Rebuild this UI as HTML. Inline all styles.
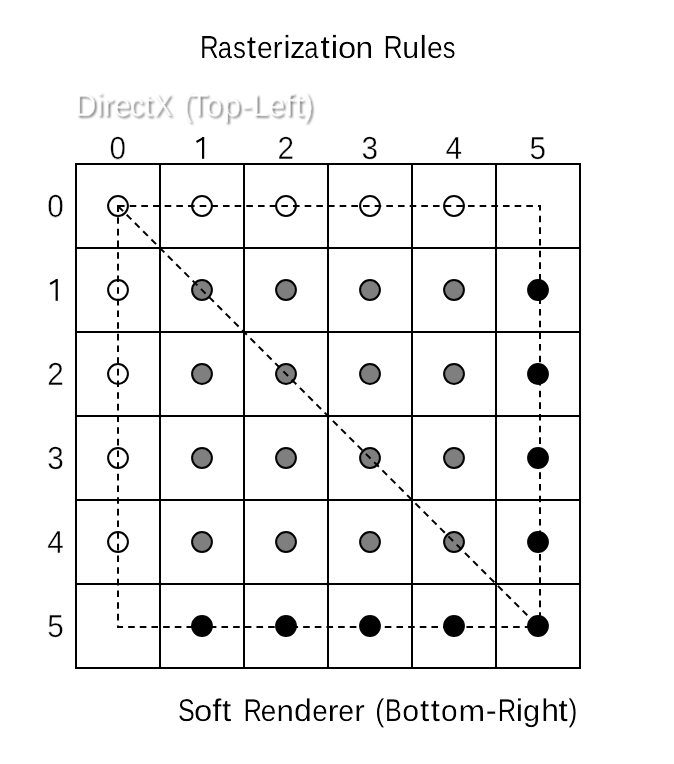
<!DOCTYPE html>
<html><head><meta charset="utf-8"><style>
html,body{margin:0;padding:0;background:#fff;width:674px;height:764px;overflow:hidden}
svg{display:block;will-change:transform} text{text-rendering:geometricPrecision}
</style></head><body>
<svg width="674" height="764" viewBox="0 0 674 764">
<g stroke="#000" stroke-width="2" fill="none"><line x1="76" y1="163" x2="76" y2="669"/><line x1="75" y1="164" x2="581" y2="164"/><line x1="160" y1="163" x2="160" y2="669"/><line x1="75" y1="248" x2="581" y2="248"/><line x1="244" y1="163" x2="244" y2="669"/><line x1="75" y1="332" x2="581" y2="332"/><line x1="328" y1="163" x2="328" y2="669"/><line x1="75" y1="416" x2="581" y2="416"/><line x1="412" y1="163" x2="412" y2="669"/><line x1="75" y1="500" x2="581" y2="500"/><line x1="496" y1="163" x2="496" y2="669"/><line x1="75" y1="584" x2="581" y2="584"/><line x1="580" y1="163" x2="580" y2="669"/><line x1="75" y1="668" x2="581" y2="668"/></g>
<g stroke="#000" stroke-width="2"><circle cx="118" cy="206" r="9.9" fill="#fff"/><circle cx="202" cy="206" r="9.9" fill="#fff"/><circle cx="286" cy="206" r="9.9" fill="#fff"/><circle cx="370" cy="206" r="9.9" fill="#fff"/><circle cx="454" cy="206" r="9.9" fill="#fff"/><circle cx="118" cy="290" r="9.9" fill="#fff"/><circle cx="118" cy="374" r="9.9" fill="#fff"/><circle cx="118" cy="458" r="9.9" fill="#fff"/><circle cx="118" cy="542" r="9.9" fill="#fff"/><circle cx="202" cy="290" r="9.9" fill="#7f7f7f"/><circle cx="286" cy="290" r="9.9" fill="#7f7f7f"/><circle cx="370" cy="290" r="9.9" fill="#7f7f7f"/><circle cx="454" cy="290" r="9.9" fill="#7f7f7f"/><circle cx="202" cy="374" r="9.9" fill="#7f7f7f"/><circle cx="286" cy="374" r="9.9" fill="#7f7f7f"/><circle cx="370" cy="374" r="9.9" fill="#7f7f7f"/><circle cx="454" cy="374" r="9.9" fill="#7f7f7f"/><circle cx="202" cy="458" r="9.9" fill="#7f7f7f"/><circle cx="286" cy="458" r="9.9" fill="#7f7f7f"/><circle cx="370" cy="458" r="9.9" fill="#7f7f7f"/><circle cx="454" cy="458" r="9.9" fill="#7f7f7f"/><circle cx="202" cy="542" r="9.9" fill="#7f7f7f"/><circle cx="286" cy="542" r="9.9" fill="#7f7f7f"/><circle cx="370" cy="542" r="9.9" fill="#7f7f7f"/><circle cx="454" cy="542" r="9.9" fill="#7f7f7f"/><circle cx="538" cy="290" r="9.9" fill="#000"/><circle cx="538" cy="374" r="9.9" fill="#000"/><circle cx="538" cy="458" r="9.9" fill="#000"/><circle cx="538" cy="542" r="9.9" fill="#000"/><circle cx="538" cy="626" r="9.9" fill="#000"/><circle cx="202" cy="626" r="9.9" fill="#000"/><circle cx="286" cy="626" r="9.9" fill="#000"/><circle cx="370" cy="626" r="9.9" fill="#000"/><circle cx="454" cy="626" r="9.9" fill="#000"/></g>
<g stroke="#000" stroke-width="2.0" fill="none" stroke-dasharray="6.6 5.066" stroke-linejoin="miter"><path d="M118 206H540V627H118Z"/><path d="M118 206L538 626" stroke-dashoffset="-0.6"/></g>
<g fill="#000"><path d="M202.00 137.00h2.2V158.80h-2.2Z"/><path d="M196.50 142.00L203.60 137.90" stroke="#000" stroke-width="2.1" fill="none"/><path d="M55.60 279.00h2.2V300.80h-2.2Z"/><path d="M50.10 284.00L57.20 279.90" stroke="#000" stroke-width="2.1" fill="none"/></g>
<defs><filter id="thin" x="0" y="0" width="674" height="764" filterUnits="userSpaceOnUse"><feComponentTransfer><feFuncA type="gamma" amplitude="1" exponent="1.6" offset="0"/></feComponentTransfer></filter></defs>
<g font-family="'Liberation Sans', sans-serif" fill="#000" stroke="#fff" stroke-width="0" filter="url(#thin)"><text transform="translate(199.97 58.00) scale(0.8107 1.0000)" font-size="32" text-anchor="start">R</text><text transform="translate(217.85 58.00) scale(0.8000 0.9400)" font-size="32" text-anchor="start">a</text><text transform="translate(232.99 58.00) scale(0.8073 0.9400)" font-size="32" text-anchor="start">s</text><text transform="translate(246.64 58.00) scale(1.0500 1.0000)" font-size="32" text-anchor="start">t</text><text transform="translate(256.89 58.00) scale(0.8867 0.9400)" font-size="32" text-anchor="start">e</text><text transform="translate(272.55 58.00) scale(0.9548 0.9400)" font-size="32" text-anchor="start">r</text><text transform="translate(283.29 58.00) scale(1.0500 1.0000)" font-size="32" text-anchor="start">i</text><text transform="translate(290.10 58.00) scale(0.9585 0.9400)" font-size="32" text-anchor="start">z</text><text transform="translate(304.35 58.00) scale(0.8000 0.9400)" font-size="32" text-anchor="start">a</text><text transform="translate(320.39 58.00) scale(1.0500 1.0000)" font-size="32" text-anchor="start">t</text><text transform="translate(330.84 58.00) scale(1.0500 1.0000)" font-size="32" text-anchor="start">i</text><text transform="translate(338.02 58.00) scale(1.0230 0.9400)" font-size="32" text-anchor="start">o</text><text transform="translate(355.57 58.00) scale(0.9926 0.9400)" font-size="32" text-anchor="start">n</text><text transform="translate(383.61 58.00) scale(0.8320 1.0000)" font-size="32" text-anchor="start">R</text><text transform="translate(402.21 58.00) scale(0.9455 0.9400)" font-size="32" text-anchor="start">u</text><text transform="translate(419.54 58.00) scale(1.0500 1.0000)" font-size="32" text-anchor="start">l</text><text transform="translate(426.89 58.00) scale(0.8867 0.9400)" font-size="32" text-anchor="start">e</text><text transform="translate(442.80 58.00) scale(0.8000 0.9400)" font-size="32" text-anchor="start">s</text><text transform="translate(177.95 720.70) scale(0.8000 1.0000)" font-size="31.5" text-anchor="start">S</text><text transform="translate(194.10 720.70) scale(1.0400 0.9400)" font-size="31.5" text-anchor="start">o</text><text transform="translate(212.24 720.70) scale(1.0500 1.0000)" font-size="31.5" text-anchor="start">f</text><text transform="translate(222.03 720.70) scale(1.0500 1.0000)" font-size="31.5" text-anchor="start">t</text><text transform="translate(243.57 720.70) scale(0.8107 1.0000)" font-size="31.5" text-anchor="start">R</text><text transform="translate(260.80 720.70) scale(0.8814 0.9400)" font-size="31.5" text-anchor="start">e</text><text transform="translate(276.61 720.70) scale(0.9926 0.9400)" font-size="31.5" text-anchor="start">n</text><text transform="translate(293.93 720.70) scale(1.0175 1.0000)" font-size="31.5" text-anchor="start">d</text><text transform="translate(312.30 720.70) scale(0.8814 0.9400)" font-size="31.5" text-anchor="start">e</text><text transform="translate(327.75 720.70) scale(1.0250 0.9400)" font-size="31.5" text-anchor="start">r</text><text transform="translate(338.37 720.70) scale(0.9017 0.9400)" font-size="31.5" text-anchor="start">e</text><text transform="translate(354.17 720.70) scale(1.0125 0.9400)" font-size="31.5" text-anchor="start">r</text><text transform="translate(375.28 720.70) scale(0.8606 1.0000)" font-size="31.5" text-anchor="start">(</text><text transform="translate(385.05 720.70) scale(0.8000 1.0000)" font-size="31.5" text-anchor="start">B</text><text transform="translate(402.20 720.70) scale(0.9600 0.9400)" font-size="31.5" text-anchor="start">o</text><text transform="translate(420.12 720.70) scale(1.0500 1.0000)" font-size="31.5" text-anchor="start">t</text><text transform="translate(430.72 720.70) scale(1.0500 1.0000)" font-size="31.5" text-anchor="start">t</text><text transform="translate(440.92 720.70) scale(0.9467 0.9400)" font-size="31.5" text-anchor="start">o</text><text transform="translate(458.62 720.70) scale(1.0136 0.9400)" font-size="31.5" text-anchor="start">m</text><text transform="translate(485.64 720.70) scale(1.0500 1.0000)" font-size="31.5" text-anchor="start">-</text><text transform="translate(497.77 720.70) scale(0.8107 1.0000)" font-size="31.5" text-anchor="start">R</text><text transform="translate(515.76 720.70) scale(1.0500 1.0000)" font-size="31.5" text-anchor="start">i</text><text transform="translate(523.08 720.70) scale(0.9754 0.9400)" font-size="31.5" text-anchor="start">g</text><text transform="translate(541.22 720.70) scale(1.0113 1.0000)" font-size="31.5" text-anchor="start">h</text><text transform="translate(558.62 720.70) scale(1.0500 1.0000)" font-size="31.5" text-anchor="start">t</text><text transform="translate(568.59 720.70) scale(0.8485 1.0000)" font-size="31.5" text-anchor="start">)</text></g>
<g font-family="'Liberation Sans', sans-serif" fill="#000" stroke="#fff" stroke-width="0.4"><text transform="translate(117.70 158.80) scale(0.9300 1.0000)" font-size="32" text-anchor="middle">0</text><text transform="translate(285.70 158.80) scale(0.9300 1.0000)" font-size="32" text-anchor="middle">2</text><text transform="translate(369.70 158.80) scale(0.9300 1.0000)" font-size="32" text-anchor="middle">3</text><text transform="translate(453.70 158.80) scale(0.9300 1.0000)" font-size="32" text-anchor="middle">4</text><text transform="translate(537.70 158.80) scale(0.9300 1.0000)" font-size="32" text-anchor="middle">5</text><text transform="translate(55.40 216.80) scale(0.9300 1.0000)" font-size="32" text-anchor="middle">0</text><text transform="translate(55.40 384.80) scale(0.9300 1.0000)" font-size="32" text-anchor="middle">2</text><text transform="translate(55.40 468.80) scale(0.9300 1.0000)" font-size="32" text-anchor="middle">3</text><text transform="translate(55.40 552.80) scale(0.9300 1.0000)" font-size="32" text-anchor="middle">4</text><text transform="translate(55.40 636.80) scale(0.9300 1.0000)" font-size="32" text-anchor="middle">5</text></g>
<defs><filter id="sh" x="-10%" y="-40%" width="120%" height="180%"><feGaussianBlur in="SourceAlpha" stdDeviation="0.9"/><feOffset dx="2" dy="2" result="b"/><feFlood flood-color="#000" flood-opacity="0.62"/><feComposite in2="b" operator="in"/><feMerge><feMergeNode/><feMergeNode in="SourceGraphic"/></feMerge></filter></defs>
<defs><mask id="dxm" maskUnits="userSpaceOnUse" x="0" y="0" width="674" height="764"><rect x="0" y="0" width="674" height="764" fill="#fff"/><g font-family="'Liberation Sans', sans-serif" fill="none" stroke="#000" stroke-width="0.8"><text transform="translate(74.87 115.90) scale(0.9304 1.0000)" font-size="32" text-anchor="start">D</text><text transform="translate(96.09 115.90) scale(1.0500 1.0000)" font-size="32" text-anchor="start">i</text><text transform="translate(102.92 115.90) scale(1.0500 1.0000)" font-size="32" text-anchor="start">r</text><text transform="translate(113.60 115.90) scale(0.9718 1.0000)" font-size="32" text-anchor="start">e</text><text transform="translate(130.07 115.90) scale(0.8649 1.0000)" font-size="32" text-anchor="start">c</text><text transform="translate(143.59 115.90) scale(1.0500 1.0000)" font-size="32" text-anchor="start">t</text><text transform="translate(153.71 115.90) scale(0.8602 1.0000)" font-size="32" text-anchor="start">X</text><text transform="translate(183.55 115.90) scale(0.8000 1.0000)" font-size="32" text-anchor="start">(</text><text transform="translate(190.11 115.90) scale(0.9477 1.0000)" font-size="32" text-anchor="start">T</text><text transform="translate(205.54 115.90) scale(0.9481 1.0000)" font-size="32" text-anchor="start">o</text><text transform="translate(223.00 115.90) scale(1.0000 1.0000)" font-size="32" text-anchor="start">p</text><text transform="translate(240.91 115.90) scale(1.0500 1.0000)" font-size="32" text-anchor="start">-</text><text transform="translate(252.26 115.90) scale(0.9015 1.0000)" font-size="32" text-anchor="start">L</text><text transform="translate(268.47 115.90) scale(0.9296 1.0000)" font-size="32" text-anchor="start">e</text><text transform="translate(284.66 115.90) scale(1.0500 1.0000)" font-size="32" text-anchor="start">f</text><text transform="translate(294.44 115.90) scale(1.0500 1.0000)" font-size="32" text-anchor="start">t</text><text transform="translate(303.96 115.90) scale(0.8312 1.0000)" font-size="32" text-anchor="start">)</text></g></mask></defs>
<g filter="url(#sh)"><g font-family="'Liberation Sans', sans-serif" fill="#fff" mask="url(#dxm)"><text transform="translate(74.87 115.90) scale(0.9304 1.0000)" font-size="32" text-anchor="start">D</text><text transform="translate(96.09 115.90) scale(1.0500 1.0000)" font-size="32" text-anchor="start">i</text><text transform="translate(102.92 115.90) scale(1.0500 1.0000)" font-size="32" text-anchor="start">r</text><text transform="translate(113.60 115.90) scale(0.9718 1.0000)" font-size="32" text-anchor="start">e</text><text transform="translate(130.07 115.90) scale(0.8649 1.0000)" font-size="32" text-anchor="start">c</text><text transform="translate(143.59 115.90) scale(1.0500 1.0000)" font-size="32" text-anchor="start">t</text><text transform="translate(153.71 115.90) scale(0.8602 1.0000)" font-size="32" text-anchor="start">X</text><text transform="translate(183.55 115.90) scale(0.8000 1.0000)" font-size="32" text-anchor="start">(</text><text transform="translate(190.11 115.90) scale(0.9477 1.0000)" font-size="32" text-anchor="start">T</text><text transform="translate(205.54 115.90) scale(0.9481 1.0000)" font-size="32" text-anchor="start">o</text><text transform="translate(223.00 115.90) scale(1.0000 1.0000)" font-size="32" text-anchor="start">p</text><text transform="translate(240.91 115.90) scale(1.0500 1.0000)" font-size="32" text-anchor="start">-</text><text transform="translate(252.26 115.90) scale(0.9015 1.0000)" font-size="32" text-anchor="start">L</text><text transform="translate(268.47 115.90) scale(0.9296 1.0000)" font-size="32" text-anchor="start">e</text><text transform="translate(284.66 115.90) scale(1.0500 1.0000)" font-size="32" text-anchor="start">f</text><text transform="translate(294.44 115.90) scale(1.0500 1.0000)" font-size="32" text-anchor="start">t</text><text transform="translate(303.96 115.90) scale(0.8312 1.0000)" font-size="32" text-anchor="start">)</text></g></g>
</svg>
</body></html>
